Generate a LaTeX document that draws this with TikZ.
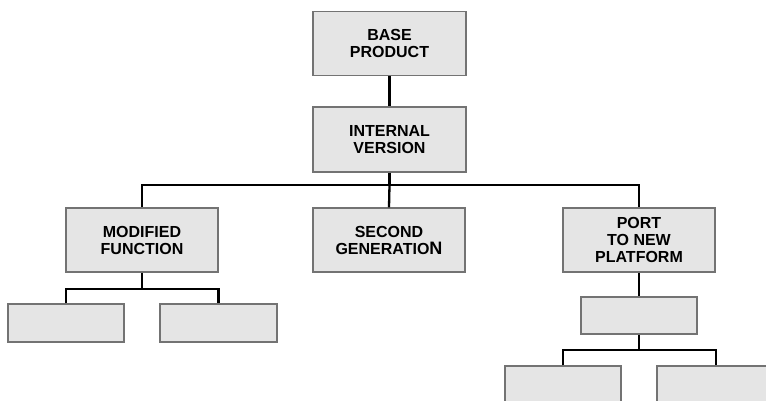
\documentclass[tikz,border=0pt]{standalone}
\usepackage{fontspec}
\setmainfont{Liberation Sans}
\begin{document}
\begin{tikzpicture}[x=1pt,y=-1pt,
  box/.style={draw=black!55,line width=1.2pt,fill=black!10,inner sep=0pt,align=center,
    font=\fontsize{16}{17}\selectfont\bfseries},
  conn/.style={line width=2.3pt,black}]
\clip (0,0) rectangle (766,401);
\fill[white] (0,0) rectangle (766,401);
\node[box,minimum width=153pt,minimum height=64pt] (base) at (389.5,43.5) {BASE\\PRODUCT};
\node[box,minimum width=153pt,minimum height=65pt] (internal) at (389.5,139.5) {INTERNAL\\VERSION};
\node[box,minimum width=152pt,minimum height=64pt] (mod) at (142,240) {MODIFIED\\FUNCTION};
\node[box,minimum width=152pt,minimum height=64pt] (sec) at (389,240) {SECOND\\GENERATIO{\fontsize{18}{17}\selectfont N}};
\node[box,minimum width=152pt,minimum height=64pt] (port) at (639,240) {PORT\\TO NEW\\PLATFORM};
\node[box,minimum width=116pt,minimum height=38pt] (l1) at (66,323) {};
\node[box,minimum width=117pt,minimum height=38pt] (l2) at (218.5,323) {};
\node[box,minimum width=116pt,minimum height=37pt] (pm) at (639,315.5) {};
\node[box,minimum width=116pt,minimum height=54pt] (b1) at (563,393) {};
\node[box,minimum width=118pt,minimum height=54pt] (b2) at (716,393) {};
\coordinate (bus) at (389.5,185);
\coordinate (mbus) at (142,289);
\coordinate (pbus) at (639,350);
\draw[conn] (base.south) -- (internal.north);
\draw[conn] (internal.south) -- (bus);
\draw[conn] (mod.north) |- (bus) -| (port.north);
\draw[conn] (bus) -- (sec.north);
\draw[conn] (mod.south) -- (mbus);
\draw[conn] (l1.north) |- (mbus) -| (l2.north);
\draw[conn] (port.south) -- (pm.north);
\draw[conn] (pm.south) -- (pbus);
\draw[conn] (b1.north) |- (pbus) -| (b2.north);
\end{tikzpicture}
\end{document}
